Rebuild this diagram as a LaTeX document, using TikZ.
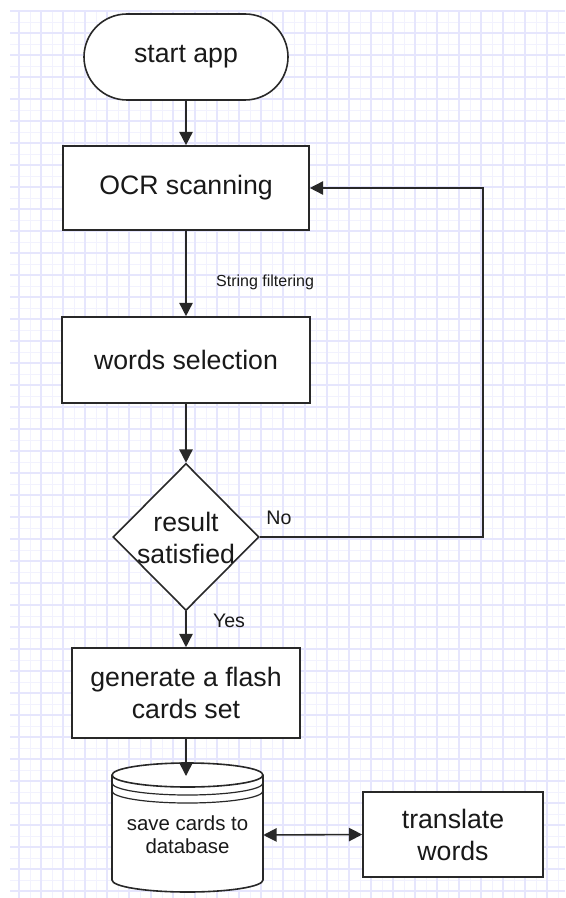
\documentclass[tikz,border=0pt]{standalone}
\usepackage{fontspec}
\setmainfont{Liberation Sans}
\usetikzlibrary{shapes.geometric,arrows.meta}
\definecolor{gridmaj}{RGB}{230,230,253}
\definecolor{gridmin}{RGB}{242,242,254}
\definecolor{ink}{RGB}{40,40,40}
\definecolor{txt}{RGB}{25,25,25}
\begin{document}
\begin{tikzpicture}[x=0.75pt,y=-0.75pt,
  shapebase/.style={draw=ink, fill=white, line width=1.2pt, inner sep=0pt, align=center, text=txt},
  bigtext/.style={font=\fontsize{20}{24}\selectfont},
  procbox/.style={shapebase, bigtext, rectangle},
  flow/.style={draw=ink, line width=1.2pt, -{Triangle[width=10pt,length=10pt]}},
  biflow/.style={draw=ink, line width=1.2pt, {Triangle[width=10pt,length=10pt]}-{Triangle[width=10pt,length=10pt]}},
  lbl/.style={text=txt, inner sep=0pt},
]
\useasboundingbox (0,0) rectangle (565,898);
% grid
\begin{scope}
\clip (10,10) rectangle (565,898);
\fill[white] (10,10) rectangle (565,898);
\foreach \x in {8,30,...,565} \draw[gridmin, line width=0.6pt] (\x,10) -- (\x,898);
\foreach \y in {22,44,...,898} \draw[gridmin, line width=0.6pt] (10,\y) -- (565,\y);
\foreach \x in {19,41,...,565} \draw[gridmaj, line width=0.8pt] (\x,10) -- (\x,898);
\foreach \y in {11,33,...,898} \draw[gridmaj, line width=0.8pt] (10,\y) -- (565,\y);
\end{scope}

% nodes
\node[shapebase, bigtext, rectangle, rounded corners=32.25pt, minimum width=153pt, minimum height=64.5pt] (start) at (186,57) {start app};
\node[procbox, minimum width=184.5pt, minimum height=63pt] (ocr) at (186,188) {OCR scanning};
\node[procbox, minimum width=186pt, minimum height=64.5pt] (words) at (186,360) {words selection};
\node[shapebase, diamond, minimum width=109.5pt, minimum height=110.25pt] (dec) at (186,537) {};
\node[lbl, bigtext, align=center] (dectext) at (186,538) {result\\satisfied};
\node[procbox, minimum width=171pt, minimum height=67.5pt] (gen) at (186,693) {generate a flash\\cards set};

% cylinder (database)
\draw[draw=ink, fill=white, line width=1.2pt]
  (112,775) -- (112,880) arc[start angle=180, end angle=360, x radius=56.625pt, y radius=9pt]
  -- (263,775) arc[start angle=0, end angle=180, x radius=56.625pt, y radius=9pt] -- cycle;
\draw[draw=ink, line width=1.2pt] (112,775) arc[start angle=180, end angle=360, x radius=56.625pt, y radius=9pt];
\draw[draw=ink, line width=0.9pt] (112,783) arc[start angle=180, end angle=360, x radius=56.625pt, y radius=9pt];
\draw[draw=ink, line width=0.9pt] (112,791) arc[start angle=180, end angle=360, x radius=56.625pt, y radius=9pt];
\node[lbl, align=center, font=\fontsize{15.3}{17.5}\selectfont, minimum width=113.25pt] (db) at (187.5,835) {save cards to\\database};
\coordinate (dbtop) at (186,776);

\node[procbox, minimum width=135pt, minimum height=63.75pt] (tr) at (453,834.5) {translate\\words};

% connectors
\draw[flow] (start) -- (ocr);
\draw[flow] (ocr) -- (words) node[lbl, pos=0.6, right=22pt, font=\fontsize{12}{14}\selectfont] (sf) {String filtering};
\draw[flow] (words) -- (dec);
\coordinate (loopc) at (483,537);
\draw[flow] (dec.east) -- (loopc) |- (ocr.east);
\node[lbl, font=\fontsize{14.7}{17}\selectfont] (no) at (279,518) {No};
\draw[flow] (dec) -- (gen);
\node[lbl, font=\fontsize{14.7}{17}\selectfont] (yes) at (229,621) {Yes};
\draw[flow] (gen) -- (dbtop);
\draw[biflow] (db.east) -- (tr.west);
\end{tikzpicture}
\end{document}
